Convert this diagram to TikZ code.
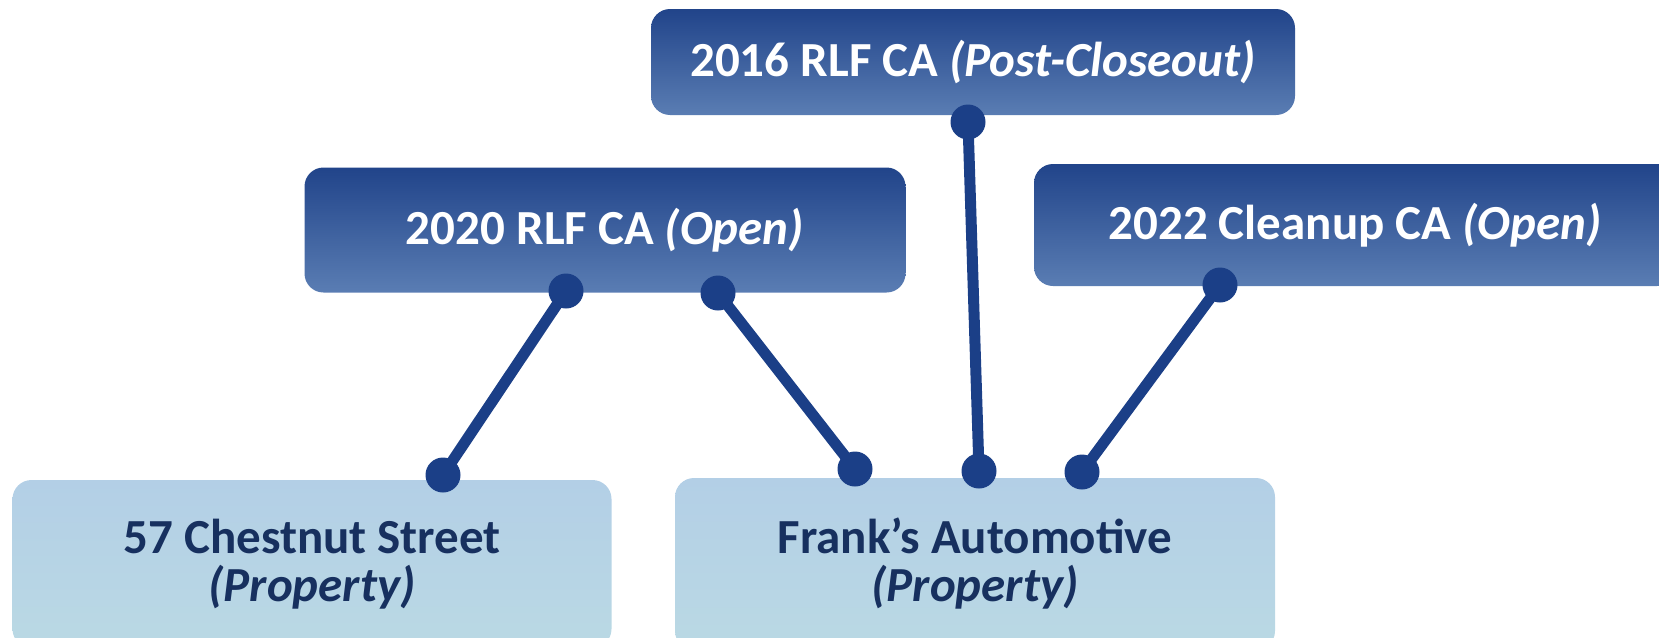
\documentclass[tikz,border=0pt]{standalone}
\usepackage{fontspec}
\setmainfont{Carlito}
\usepackage{xcolor}

\definecolor{linkblue}{HTML}{1B3F87}
\definecolor{catop}{HTML}{21448A}
\definecolor{cabottom}{HTML}{5A7DB3}
\definecolor{proptop}{HTML}{B3CFE6}
\definecolor{propbottom}{HTML}{BAD9E4}
\definecolor{proptext}{HTML}{17305F}

\tikzset{
  cabox/.style={rounded corners=19pt, top color=catop, bottom color=cabottom,
    text=white, inner sep=0pt, font=\fontsize{49}{48}\selectfont\bfseries},
  propbox/.style={rounded corners=19pt, top color=proptop, bottom color=propbottom,
    text=proptext, inner sep=0pt, align=center, font=\fontsize{49}{48}\selectfont\bfseries},
  link/.style={linkblue, line width=11pt},
}

\begin{document}
\begin{tikzpicture}[x=1pt,y=-1pt]
                \useasboundingbox (0,0) rectangle (1659,637);
                \clip (0,0) rectangle (1659,637);
                % agreements
                \node[cabox, minimum width=644pt, minimum height=106pt] (rlf16) at (973,62) {2016 RLF CA \textit{(Post-Closeout)}};
                \node[cabox, minimum width=601pt, minimum height=125pt] (rlf20) at (605,230) {2020 RLF CA \textit{(Open)}};
                \node[cabox, minimum width=642pt, minimum height=122pt] (clean22) at (1355,225) {2022 Cleanup CA \textit{(Open)}};
                % properties
                \node[propbox, minimum width=599pt, minimum height=168pt] (chestnut) at (312,564) {57 Chestnut Street\\\textit{(Property)}};
                \node[propbox, minimum width=600pt, minimum height=172pt] (franks) at (975,564) {Frank’s Automotive\\\textit{(Property)}};
                % link ends
                \coordinate (rlf16a) at (968,122);
                \coordinate (franksa) at (979,471);
                \coordinate (rlf20a) at (566,291);
                \coordinate (chestnuta) at (443,475);
                \coordinate (rlf20b) at (718,293);
                \coordinate (franksb) at (855,469);
                \coordinate (clean22a) at (1220,285);
                \coordinate (franksc) at (1082,472);
                \draw[link] (rlf16a) -- (franksa);
                \draw[link] (rlf20a) -- (chestnuta);
                \draw[link] (rlf20b) -- (franksb);
                \draw[link] (clean22a) -- (franksc);
                \foreach \p in {rlf16a,franksa,rlf20a,chestnuta,rlf20b,franksb,clean22a,franksc}
                    \fill[linkblue] (\p) circle (17.5pt);
            \end{tikzpicture}
\end{document}
